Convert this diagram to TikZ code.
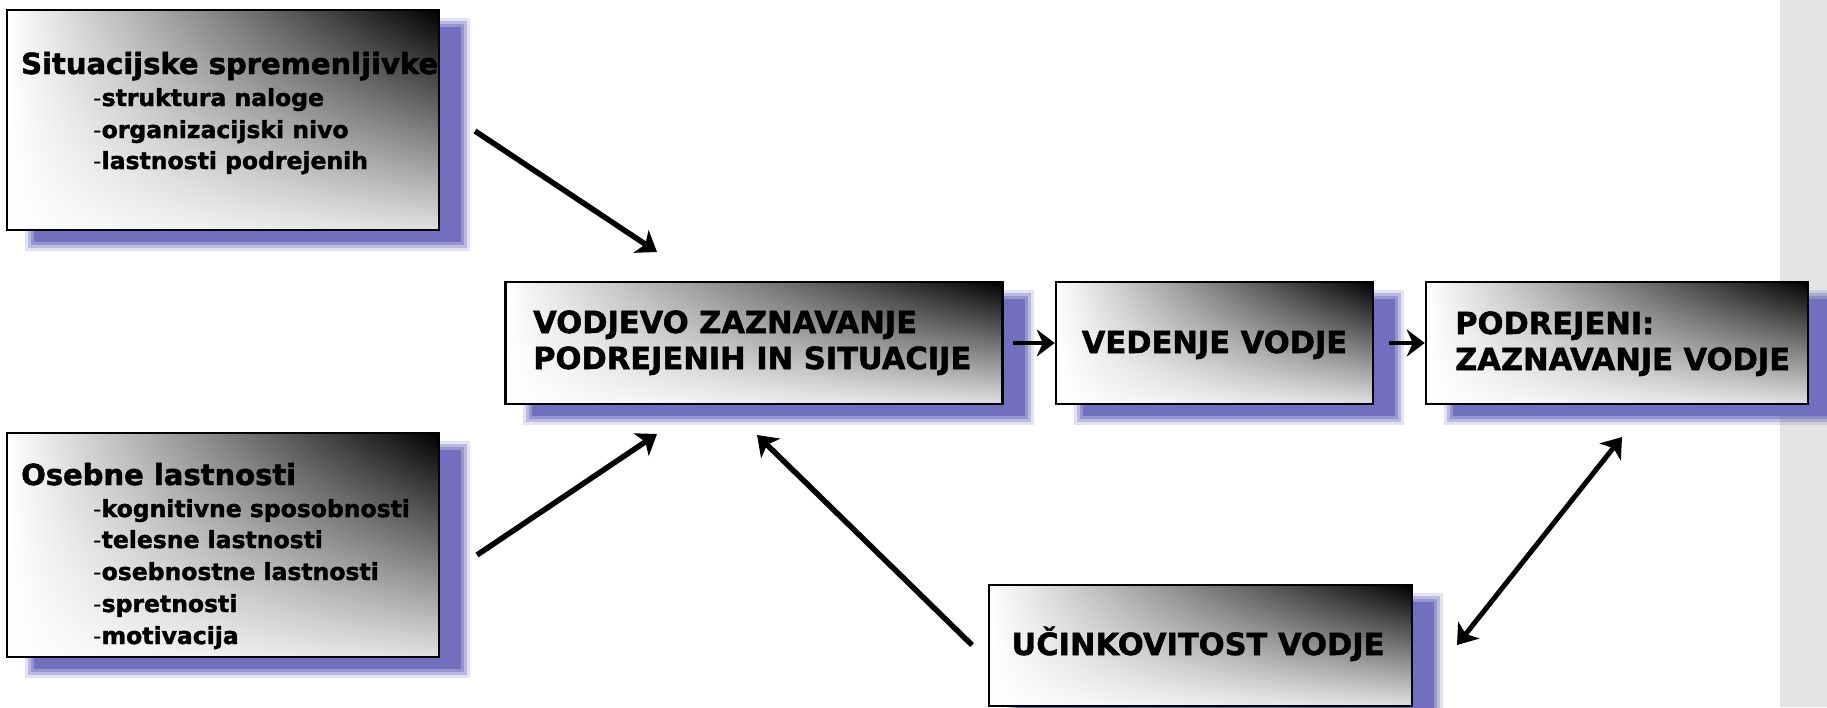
\documentclass[tikz,border=0pt]{standalone}
\usepackage{fontspec}
\usepackage{graphicx}
\setmainfont{DejaVu Sans}[BoldFeatures={FakeBold=1.6}]
\usetikzlibrary{arrows.meta,shadings}
\definecolor{shadowcol}{RGB}{112,112,190}
\definecolor{panelgray}{RGB}{227,227,227}
\pgfdeclarelayer{bg}
\pgfsetlayers{bg,main}
\newcommand\dropshadow[1]{%
  \fill[shadowcol,opacity=0.2] ([shift={(19,9)}]#1.north west) rectangle ([shift={(30,20)}]#1.south east);
  \fill[shadowcol,opacity=0.35] ([shift={(22,12)}]#1.north west) rectangle ([shift={(27,17)}]#1.south east);
  \fill[shadowcol,opacity=0.5] ([shift={(25,15)}]#1.north west) rectangle ([shift={(24,14)}]#1.south east);
  \fill[shadowcol] ([shift={(28,18)}]#1.north west) rectangle ([shift={(21,11)}]#1.south east);
}
\begin{document}
\begin{tikzpicture}[x=1pt,y=-1pt,
  box/.style={draw=black, line width=2.5pt, shade, shading=bilinear interpolation, upper left=white, upper right=black, lower left=white, lower right=black!12, inner sep=0pt},
  title/.style={font=\fontsize{29}{36}\selectfont\bfseries, inner sep=0pt, anchor=base west},
  item/.style={font=\fontsize{23.5}{28}\selectfont\bfseries, inner sep=0pt, anchor=base west},
  caps/.style={font=\fontsize{30.5}{36}\selectfont\bfseries, inner sep=0pt},
  big/.style={line width=5.5pt, -{Stealth[length=19pt,width=27pt,inset=5pt]}},
  small/.style={line width=4pt, -{Stealth[length=18pt,width=27pt,inset=6pt]}},
  both/.style={line width=5pt, {Stealth[length=19pt,width=27pt,inset=5pt]}-{Stealth[length=19pt,width=27pt,inset=5pt]}},
]
\useasboundingbox (0,0) rectangle (1827,707);

% boxes
\node[box, minimum width=432pt, minimum height=220pt] (b1) at (223,120) {};
\node[box, minimum width=432pt, minimum height=224pt] (b2) at (223,545) {};
\node[box, minimum width=497pt, minimum height=122pt] (b3) at (754,343) {};
\node[box, minimum width=317pt, minimum height=122pt] (b4) at (1214.5,343) {};
\node[box, minimum width=382pt, minimum height=122pt] (b5) at (1617,343) {};
\node[box, minimum width=423pt, minimum height=121pt] (b6) at (1200.5,645.5) {};

\begin{pgfonlayer}{bg}
  \fill[panelgray] (1780,0) rectangle (1827,707);
  \dropshadow{b1}
  \dropshadow{b2}
  \dropshadow{b3}
  \dropshadow{b4}
  \dropshadow{b5}
  \dropshadow{b6}
\end{pgfonlayer}

% texts
\node[title] (t1) at (21,74) {Situacijske spremenljivke};
\node[item] (t1a) at (93,106) {{\mdseries -}struktura naloge};
\node[item] (t1b) at (93,138) {{\mdseries -}organizacijski nivo};
\node[item] (t1c) at (93,169) {{\mdseries -}lastnosti podrejenih};

\node[title] (t2) at (21,485) {Osebne lastnosti};
\node[item] (t2a) at (93,517) {{\mdseries -}kognitivne sposobnosti};
\node[item] (t2b) at (93,548) {{\mdseries -}telesne lastnosti};
\node[item] (t2c) at (93,580) {{\mdseries -}osebnostne lastnosti};
\node[item] (t2d) at (93,612) {{\mdseries -}spretnosti};
\node[item] (t2e) at (93,644) {{\mdseries -}motivacija};

\node[caps, anchor=base west] (t3) at (533,333) {\begin{tabular}[t]{@{}l@{}}VODJEVO ZAZNAVANJE\\PODREJENIH IN SITUACIJE\end{tabular}};
\node[caps, anchor=base] (t4) at (1214.5,353) {VEDENJE VODJE};
\node[caps, anchor=base west] (t5) at (1455,334) {\begin{tabular}[t]{@{}l@{}}PODREJENI:\\ZAZNAVANJE VODJE\end{tabular}};
\node[caps, anchor=base] (t6) at (1198,655) {UČINKOVITOST VODJE};

% connectors
\coordinate (a1s) at (475,131);
\coordinate (a1e) at (657,252);
\coordinate (a2s) at (477,555);
\coordinate (a2e) at (657,434);
\coordinate (a3s) at (972,645);
\coordinate (a3e) at (757,435);
\coordinate (a4s) at (1013,343);
\coordinate (a5s) at (1389,343);
\coordinate (a6s) at (1457,645);
\coordinate (a6e) at (1622,437);

\draw[big] (a1s) -- (a1e);
\draw[big] (a2s) -- (a2e);
\draw[big] (a3s) -- (a3e);
\draw[small] (a4s) -- (b4.west);
\draw[small] (a5s) -- (b5.west);
\draw[both] (a6s) -- (a6e);
\end{tikzpicture}
\end{document}
